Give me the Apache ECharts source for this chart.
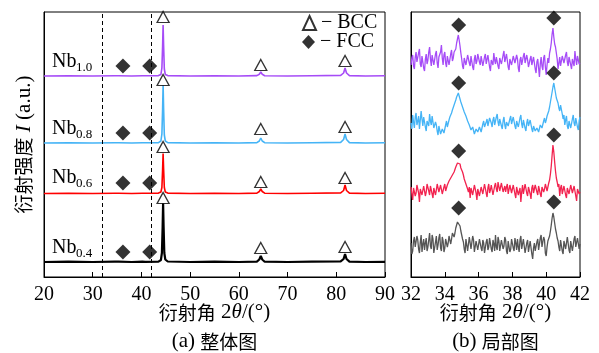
<!DOCTYPE html>
<html>
<head>
<meta charset="utf-8">
<script src="https://cdn.jsdelivr.net/npm/echarts@6/dist/echarts.min.js"></script>
<style>
  html, body { margin: 0; padding: 0; background: #fff; }
  #main { width: 599px; height: 353px; }
</style>
</head>
<body>
<div id="main"></div>
<script>
// 样品名（下标）与颜色，顺序：Nb0.4, Nb0.6, Nb0.8, Nb1.0
const sampleNames = ['0.4', '0.6', '0.8', '1.0']
const wideColors = ['#000000', '#ff0000', '#45b4f6', '#a64cf7']
const localColors = ['#555555', '#f2234f', '#45b4f6', '#a64cf7']

// (a) 整体图：衍射角与相对强度，垂直偏移
const wideAngle = [20, 25, 30, 34.5, 34.9, 35.3, 38, 40.2, 40.5, 40.8,
  43.5, 44.0, 44.2, 44.35, 44.45, 44.55, 44.7, 44.9, 45.4, 50,
  55, 60, 63.7, 64.2, 64.5, 64.8, 65.3, 70, 75, 80.9,
  81.5, 81.8, 82.1, 82.7, 86, 90]
const wideOffset = [15, 83.5, 134, 201]
const wideNb04 = [0, 0.4, 0, 0.3, 1, 0.3, 0, 0.3, 0.8, 0.2,
  0.4, 2, 9, 35, 59, 36, 9, 2.5, 0.5, 0,
  0.3, 0, 0.4, 2.5, 6, 2.5, 0.3, 0, 0.3, 0.6,
  3, 8, 3, 0.4, 0, 0.2]
const wideNb06 = [0, 0.3, 0, 0.3, 1, 0.3, 0, 0.3, 0.8, 0.2,
  0.4, 1.5, 6, 24, 40, 25, 6, 1.5, 0.4, 0,
  0.3, 0, 0.4, 2, 4.5, 2, 0.3, 0, 0.3, 0.6,
  3, 8.5, 3, 0.4, 0, 0.2]
const wideNb08 = [0, 0.3, 0, 0.3, 1, 0.3, 0, 0.3, 0.8, 0.2,
  0.4, 2, 9, 34, 58, 35, 8, 2, 0.4, 0,
  0.3, 0, 0.4, 2, 5, 2, 0.3, 0, 0.3, 0.6,
  3.5, 9, 3.5, 0.4, 0, 0.2]
const wideNb10 = [0, 0.3, 0, 0.3, 0.8, 0.3, 0, 0.3, 0.7, 0.2,
  0.4, 1.5, 8, 30, 51, 31, 7, 1.5, 0.4, 0,
  0.3, 0, 0.4, 1.8, 4, 1.8, 0.3, 0, 0.3, 0.6,
  3, 8, 3, 0.4, 0, 0.2]

// BCC 三角标记
const bccAngle = [44.45, 64.5, 81.8]
const bccHeight = [[79, 29, 30], [130, 95, 99], [197, 148, 150], [260, 212, 216]]
// FCC 菱形标记（整体图）
const fccAngleWide = [36.2, 41.7]
const fccHeightWide = [25, 94, 144, 211]
// 虚线位置
const dashAngle = [32, 42]

// (b) 局部图
const localAngle = [
  32.00, 32.05, 32.10, 32.15, 32.20, 32.25, 32.30, 32.35, 32.40, 32.45,
  32.50, 32.55, 32.60, 32.65, 32.70, 32.75, 32.80, 32.85, 32.90, 32.95,
  33.00, 33.05, 33.10, 33.15, 33.20, 33.25, 33.30, 33.35, 33.40, 33.45,
  33.50, 33.55, 33.60, 33.65, 33.70, 33.75, 33.80, 33.85, 33.90, 33.95,
  34.00, 34.05, 34.10, 34.15, 34.20, 34.25, 34.30, 34.35, 34.40, 34.45,
  34.50, 34.55, 34.60, 34.65, 34.70, 34.75, 34.80, 34.85, 34.90, 34.95,
  35.00, 35.05, 35.10, 35.15, 35.20, 35.25, 35.30, 35.35, 35.40, 35.45,
  35.50, 35.55, 35.60, 35.65, 35.70, 35.75, 35.80, 35.85, 35.90, 35.95,
  36.00, 36.05, 36.10, 36.15, 36.20, 36.25, 36.30, 36.35, 36.40, 36.45,
  36.50, 36.55, 36.60, 36.65, 36.70, 36.75, 36.80, 36.85, 36.90, 36.95,
  37.00, 37.05, 37.10, 37.15, 37.20, 37.25, 37.30, 37.35, 37.40, 37.45,
  37.50, 37.55, 37.60, 37.65, 37.70, 37.75, 37.80, 37.85, 37.90, 37.95,
  38.00, 38.05, 38.10, 38.15, 38.20, 38.25, 38.30, 38.35, 38.40, 38.45,
  38.50, 38.55, 38.60, 38.65, 38.70, 38.75, 38.80, 38.85, 38.90, 38.95,
  39.00, 39.05, 39.10, 39.15, 39.20, 39.25, 39.30, 39.35, 39.40, 39.45,
  39.50, 39.55, 39.60, 39.65, 39.70, 39.75, 39.80, 39.85, 39.90, 39.95,
  40.00, 40.05, 40.10, 40.15, 40.20, 40.25, 40.30, 40.35, 40.40, 40.45,
  40.50, 40.55, 40.60, 40.65, 40.70, 40.75, 40.80, 40.85, 40.90, 40.95,
  41.00, 41.05, 41.10, 41.15, 41.20, 41.25, 41.30, 41.35, 41.40, 41.45,
  41.50, 41.55, 41.60, 41.65, 41.70, 41.75, 41.80, 41.85, 41.90, 41.95,
  42.00]
const localOffset = [32, 87, 154, 216]
const localNb04 = [
  2, -9, -6, 4, 8, -2, -3, 9, 5, -4,
  -8, 3, 10, -7, 1, 6, -5, 2, 7, -6,
  -2, 5, 12, -1, -4, 10, 6, -8, -9, 3,
  9, -5, 0, 7, 11, -3, -6, 8, 4, -7,
  -3, 6, 8, -2, 2, 9, 10, 1, 6, 12,
  13, 8, 12, 17, 20, 23, 25, 22, 19, 14,
  12, 6, 3, -4, -8, 6, 4, -6, -5, 8,
  7, -4, -3, 9, 5, -7, -9, 4, 3, -5,
  -4, 6, 8, -3, -6, 5, 2, -8, -10, 3,
  6, -5, -2, 7, 9, -4, -7, 5, 1, -6,
  10, -2, -5, 8, 4, -6, -8, 5, 7, -4,
  -1, 8, 5, -6, -9, 4, 3, -7, -4, 6,
  8, -3, -6, 7, 2, -5, 6, -2, -7, 5,
  9, -4, -3, 6, 4, -8, -10, 2, 5, -7,
  -6, 4, 3, -9, -14, -3, 2, -6, -8, 3,
  6, -5, -4, 7, 10, -2, -3, 8, 5, -8,
  -11, -2, 4, 6, 9, 14, 20, 27, 32, 28,
  22, 16, 12, 7, 4, -2, -6, 5, 3, -6,
  -9, 4, 5, -4, -2, 8, 7, -5, -8, 4,
  2, -6, -5, 6, 9, -2, -3, 7, 6, -4,
  1]
const localNb06 = [
  3, -4, -10, 2, 4, -6, -3, 5, 6, -3,
  -12, 1, 2, -5, -4, 4, 5, -6, -2, 6,
  7, -1, -5, 4, 3, -4, -8, 2, 4, -5,
  0, 6, 8, -2, -3, 5, 5, -4, -6, 3,
  6, -1, 1, 5, 4, 9, 8, 12, 11, 15,
  16, 18, 20, 23, 25, 27, 28, 29, 26, 22,
  20, 18, 15, 11, 9, 6, 4, 1, -2, 3,
  -8, 2, 3, -5, -4, 5, 6, -3, -10, 1,
  2, -6, -5, 3, 5, -4, -3, 6, 4, -3,
  -7, 2, 6, -3, 0, 5, 3, -5, -4, 4,
  7, 1, -2, 8, 6, -1, 1, 7, 5, -2,
  -3, 4, -2, 3, 6, -4, -5, 5, 4, -3,
  -3, 5, 6, -4, -8, 3, 2, -5, -4, 2,
  -12, -2, 5, -4, -2, 6, 4, -3, -6, 3,
  3, -4, -9, 2, 5, -3, -3, 5, 6, -2,
  -5, 4, 2, -4, -7, 3, 4, -2, 1, 6,
  5, -1, 3, 7, 10, 16, 24, 35, 45, 38,
  28, 19, 12, 8, 3, 6, -6, 2, 5, -4,
  -3, 4, 6, -5, -8, 2, 3, -4, -4, 5,
  5, -3, -2, 4, 4, -6, -11, 1, 3, -4,
  -2]
const localNb08 = [
  0, -6, 8, 1, -5, 6, 10, -2, 2, 7,
  -6, 3, 12, 4, -3, 6, 5, -4, -8, 2,
  4, -3, 9, 2, -2, 7, 6, -5, -7, 1,
  -2, -8, -12, -3, -5, -11, -13, -6, -4, -10,
  -9, -2, 2, -4, -3, 3, 6, 8, 10, 13,
  15, 18, 20, 23, 26, 28, 30, 27, 24, 21,
  19, 16, 14, 11, 9, 7, 5, 2, 0, -2,
  -4, -7, -9, -4, -6, -11, -12, -6, -5, -9,
  -10, -4, -3, -9, -8, -1, 2, -4, -5, 1,
  4, -3, -2, 5, 7, 0, -4, 3, 6, -2,
  -1, 6, 9, 1, -3, 4, 5, -3, -6, 2,
  6, -2, -6, 1, 3, -3, -4, 4, 7, -1,
  0, 6, 5, -3, -6, 2, 3, -4, -2, 5,
  8, -1, -5, 3, 2, -5, -8, 0, 4, -3,
  -4, 3, 1, -6, -9, -3, -2, -8, -10, -5,
  -4, -9, -8, -2, 0, -5, -3, 2, 5, 0,
  3, 7, 9, 12, 16, 21, 26, 31, 36, 40,
  38, 30, 25, 27, 20, 15, 12, 18, 17, 9,
  4, 8, -2, 3, 7, -3, -6, 2, 3, -5,
  -4, 4, 8, 0, -3, 5, 5, -4, -7, 2,
  6]
const localNb10 = [
  -4, 3, 6, -5, -8, 4, 9, -1, -2, 8,
  12, -3, -6, 5, 4, -7, -10, 2, 7, -3,
  1, 9, 14, 2, -5, 6, 8, -4, -3, 7,
  10, -2, -7, 4, 5, 9, 16, 3, -4, 6,
  9, -2, -6, 5, 6, -4, -2, 7, 11, 0,
  3, 9, 8, 12, 18, 22, 26, 21, 15, 8,
  2, -5, -8, 3, 5, -4, -3, 6, 8, -2,
  -5, 5, 4, -6, -9, 2, 6, -3, 0, 7,
  9, -1, -4, 5, 3, -5, -7, 4, 7, -3,
  -2, 6, 5, -6, -10, 1, 2, -4, 8, 1,
  -3, 4, 6, -5, -8, 3, 4, -3, -5, 6,
  10, -1, -2, 7, 5, -6, -9, 2, 3, -4,
  -6, 5, 7, -2, -4, 6, 2, -7, -11, 1,
  4, -4, -5, 5, 8, -2, -3, 6, 1, -6,
  -8, 2, 5, -4, -6, 4, 3, -8, -12, -1,
  2, -7, -16, -3, 4, -5, -9, 3, 6, -6,
  -14, -4, 3, -2, 8, 12, 18, 27, 33, 24,
  17, 14, 15, 2, -8, -2, 4, -5, -6, 5,
  7, -2, -3, 6, 9, -1, -5, 4, 5, -4,
  -8, 2, 3, -5, 10, 2, -4, 5, 6, -3,
  -2]
const fccAngleLocal = [34.82, 40.45]
const fccHeightLocal = [[69, 75], [126, 142], [194, 204], [252, 259]]

const wideData = [wideNb04, wideNb06, wideNb08, wideNb10]
const localData = [localNb04, localNb06, localNb08, localNb10]

const serif = 'Liberation Serif, Noto Sans CJK SC'
const cjk = 'Noto Sans CJK SC'
function nameStyle(lh) {
  return {
    fontFamily: serif, fontSize: 21, color: '#000', lineHeight: lh,
    rich: {
      c: { fontFamily: cjk, fontSize: 19, color: '#000', lineHeight: lh },
      i: { fontFamily: serif, fontSize: 21, fontStyle: 'italic', color: '#000', lineHeight: lh }
    }
  }
}

const xAxisBase = {
  type: 'value',
  nameLocation: 'middle',
  nameGap: 21,
  nameMoveOverlap: false,
  nameTextStyle: nameStyle(29),
  axisLine: { show: true, onZero: false, lineStyle: { color: '#000', width: 1 } },
  axisTick: { show: true, inside: true, length: 5, lineStyle: { color: '#000' } },
  axisLabel: { fontFamily: serif, fontSize: 20, color: '#000', margin: 8 },
  splitLine: { show: false }
}
const yAxisBase = {
  type: 'value', min: 0, max: 265,
  axisLine: { show: true, lineStyle: { color: '#000' } },
  axisTick: { show: false }, axisLabel: { show: false }, splitLine: { show: false }
}

const series = []
wideData.forEach((rel, k) => {
  series.push({
    type: 'line', xAxisIndex: 0, yAxisIndex: 0, symbol: 'none',
    lineStyle: { color: wideColors[k], width: k === 0 ? 2.2 : 1.6 },
    data: wideAngle.map((x, i) => [x, wideOffset[k] + rel[i]]),
    markLine: k === 0 ? {
      silent: true, symbol: 'none', label: { show: false },
      lineStyle: { color: '#000', type: [4, 3], width: 1 },
      data: dashAngle.map(a => ({ xAxis: a }))
    } : undefined
  })
})
localData.forEach((rel, k) => {
  series.push({
    type: 'line', xAxisIndex: 1, yAxisIndex: 1, symbol: 'none',
    lineStyle: { color: localColors[k], width: 1.3 },
    data: localAngle.map((x, i) => [x, localOffset[k] + rel[i]])
  })
})
series.push({
  name: '− BCC', type: 'scatter', xAxisIndex: 0, yAxisIndex: 0,
  symbol: 'triangle', symbolSize: [12, 11], z: 5,
  itemStyle: { color: '#fff', borderColor: '#000', borderWidth: 1.3 },
  data: bccHeight.flatMap(hs => hs.map((h, j) => [bccAngle[j], h]))
})
series.push({
  name: '− FCC', type: 'scatter', xAxisIndex: 0, yAxisIndex: 0,
  symbol: 'diamond', symbolSize: 15, z: 5,
  itemStyle: { color: '#000' },
  data: fccHeightWide.flatMap(h => fccAngleWide.map(a => [a, h]))
})
series.push({
  name: '− FCC', type: 'scatter', xAxisIndex: 1, yAxisIndex: 1,
  symbol: 'diamond', symbolSize: 15, z: 5,
  itemStyle: { color: '#000' },
  data: fccHeightLocal.flatMap(hs => hs.map((h, j) => [fccAngleLocal[j], h]))
})

// Nb 标签
const labelBaseline = [253, 183, 134, 67]
const graphic = []
sampleNames.forEach((s, k) => {
  graphic.push({
    type: 'text', left: 52, top: labelBaseline[k] - 15,
    style: { text: 'Nb', font: '20px ' + serif, fill: '#000' }
  })
  graphic.push({
    type: 'text', left: 76, top: labelBaseline[k] - 6,
    style: { text: s, font: '13px ' + serif, fill: '#000' }
  })
})

const legendBase = {
  orient: 'vertical', left: 297, itemWidth: 13, itemHeight: 14,
  textStyle: { fontFamily: serif, fontSize: 20, color: '#000' }
}

const chart = echarts.init(document.getElementById('main'))
chart.setOption({
  animation: false,
  backgroundColor: '#fff',
  grid: [
    { left: 44, right: 214, top: 12, bottom: 76, show: true, borderColor: '#000', borderWidth: 1,
      containLabel: false, outerBoundsMode: 'none' },
    { left: 411, right: 19, top: 12, bottom: 76, show: true, borderColor: '#000', borderWidth: 1,
      containLabel: false, outerBoundsMode: 'none' }
  ],
  legend: [
    Object.assign({}, legendBase, { top: 8, data: ['− BCC'] }),
    Object.assign({}, legendBase, { top: 27, data: ['− FCC'] })
  ],
  xAxis: [
    Object.assign({}, xAxisBase, { gridIndex: 0, min: 20, max: 90, interval: 10,
      name: '{c|衍射角} 2{i|θ}/(°)\n(a) {c|整体图}' }),
    Object.assign({}, xAxisBase, { gridIndex: 1, min: 32, max: 42, interval: 2,
      name: '{c|衍射角} 2{i|θ}/(°)\n(b) {c|局部图}' })
  ],
  yAxis: [
    Object.assign({}, yAxisBase, { gridIndex: 0, name: '{c|衍射强度} {i|I} (a.u.)',
      nameLocation: 'middle', nameGap: 9, nameMoveOverlap: false, nameTextStyle: nameStyle(22) }),
    Object.assign({}, yAxisBase, { gridIndex: 1 })
  ],
  graphic,
  series
})
</script>
</body>
</html>
